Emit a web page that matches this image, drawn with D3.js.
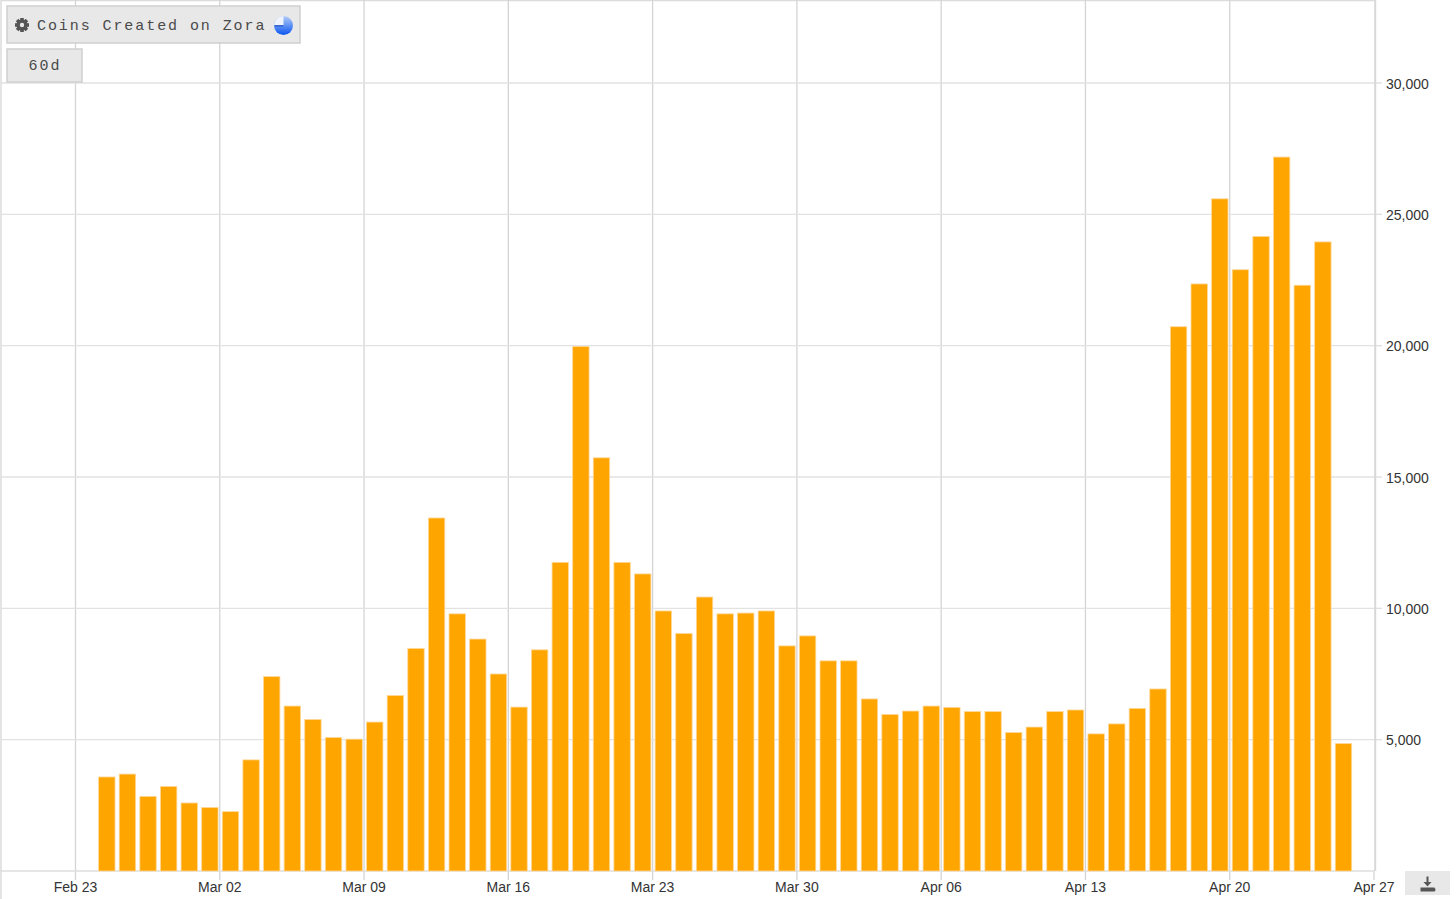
<!DOCTYPE html>
<html>
<head>
<meta charset="utf-8">
<title>Coins Created on Zora</title>
<script src="https://cdn.jsdelivr.net/npm/d3@7"></script>
<style>
  html, body { margin: 0; padding: 0; background: #fff; }
  svg { display: block; }
  text { font-family: "Liberation Sans", sans-serif; font-size: 14px; fill: #333; }
  .btn-label { font-family: "Liberation Mono", monospace; font-size: 15px; letter-spacing: 1.92px; fill: #4a4a4a; }
</style>
</head>
<body>
<div id="chart"></div>
<script>
(function() {
    'use strict';

    var title = 'Coins Created on Zora';
    var rangeLabel = '60d';
    var firstDay = '2025-02-24';
    var dayValues = [
        3580, 3690, 2840, 3220, 2590, 2420, 2260, 4230, 7400, 6280,
        5770, 5080, 5020, 5670, 6680, 8470, 13440, 9790, 8830, 7500,
        6240, 8420, 11750, 19970, 15730, 11750, 11310, 9900, 9040, 10430,
        9790, 9820, 9900, 8570, 8950, 8000, 8000, 6550, 5960, 6090,
        6280, 6230, 6070, 6070, 5270, 5480, 6070, 6130, 5220, 5600,
        6190, 6930, 20720, 22350, 25590, 22890, 24160, 27180, 22300, 23950,
        4850
    ];
    var xTickDays = ['2025-02-23', '2025-03-02', '2025-03-09', '2025-03-16', '2025-03-23',
        '2025-03-30', '2025-04-06', '2025-04-13', '2025-04-20', '2025-04-27'];
    var yTicks = [5000, 10000, 15000, 20000, 25000, 30000];

    var width = 1456, height = 899;
    var axisX = 1374, baseY = 871;

    var parseDay = d3.utcParse('%Y-%m-%d');
    var start = parseDay(firstDay);
    var bars = dayValues.map(function(v, i) {
        return { day: d3.utcDay.offset(start, i), value: v };
    });

    var x = d3.scaleUtc()
        .domain([parseDay(xTickDays[0]), parseDay(xTickDays[xTickDays.length - 1])])
        .range([75.5, axisX]);
    var y = d3.scaleLinear().domain([0, 30000]).range([baseY, 83]);

    var svg = d3.select('#chart').append('svg')
        .attr('width', width)
        .attr('height', height);

    // frame on the top and left
    svg.append('path')
        .attr('d', 'M1,' + (baseY + 28) + 'V0.5H' + axisX)
        .attr('fill', 'none')
        .attr('stroke', '#dcdcdc')
        .attr('stroke-width', 1.5);

    var gx = svg.append('g')
        .attr('transform', 'translate(0,' + baseY + ')')
        .call(d3.axisBottom(x)
            .offset(0)
            .tickValues(xTickDays.map(parseDay))
            .tickSize(9)
            .tickPadding(2)
            .tickFormat(d3.utcFormat('%b %d')));
    gx.select('.domain').remove();
    gx.selectAll('.tick line').attr('stroke', '#d4d4d4').attr('stroke-width', 1.3);
    gx.selectAll('.tick text').attr('fill', '#333');
    // vertical grid
    gx.selectAll('.tick').filter(function(d, i) { return i < xTickDays.length - 1; })
        .append('line')
        .attr('y1', 0)
        .attr('y2', -baseY)
        .attr('stroke', '#d4d4d4')
        .attr('stroke-width', 1.3);

    var gy = svg.append('g')
        .attr('transform', 'translate(' + axisX + ',0)')
        .call(d3.axisRight(y)
            .offset(0)
            .tickValues(yTicks)
            .tickSize(8)
            .tickPadding(4)
            .tickFormat(d3.format(',')));
    gy.select('.domain').remove();
    gy.selectAll('.tick line').attr('stroke', '#dedede').attr('stroke-width', 1.3);
    gy.selectAll('.tick text').attr('fill', '#333').attr('dy', '0.4em');
    // horizontal grid
    gy.selectAll('.tick').append('line')
        .attr('x1', 0)
        .attr('x2', -axisX)
        .attr('stroke', '#e2e2e2')
        .attr('stroke-width', 1.3);

    // baseline and right axis
    svg.append('line')
        .attr('x1', 0).attr('x2', axisX)
        .attr('y1', baseY).attr('y2', baseY)
        .attr('stroke', '#dedede').attr('stroke-width', 1.5);
    svg.append('line')
        .attr('x1', axisX + 1.2).attr('x2', axisX + 1.2)
        .attr('y1', 0).attr('y2', baseY)
        .attr('stroke', '#d8d8d8').attr('stroke-width', 2);

    var barWidth = 16.4;
    svg.append('g').selectAll('rect')
        .data(bars)
        .join('rect')
        .attr('x', function(d) { return x(d3.utcHour.offset(d.day, 12)) - barWidth / 2 + 0.4; })
        .attr('y', function(d) { return y(d.value); })
        .attr('width', barWidth)
        .attr('height', function(d) { return baseY - y(d.value); })
        .attr('fill', '#ffa500')
        .attr('stroke', '#ffd898')
        .attr('stroke-width', 0.8);

    // title button
    var defs = svg.append('defs');
    var grad = defs.append('linearGradient')
        .attr('id', 'pie-grad')
        .attr('x1', 0).attr('y1', 0).attr('x2', 0).attr('y2', 1);
    grad.append('stop').attr('offset', '0%').attr('stop-color', '#b4cdf8');
    grad.append('stop').attr('offset', '100%').attr('stop-color', '#0b55f0');

    var head = svg.append('g');
    head.append('rect')
        .attr('x', 7).attr('y', 6).attr('width', 293).attr('height', 37)
        .attr('fill', '#e8e8e8').attr('stroke', '#cfcfcf').attr('stroke-width', 1.5);
    head.append('text')
        .attr('class', 'btn-label')
        .attr('x', 37).attr('y', 30)
        .text(title);

    // gear
    var gear = head.append('g').attr('transform', 'translate(22,25)');
    gear.selectAll('rect')
        .data(d3.range(8))
        .join('rect')
        .attr('x', -1.8).attr('y', -7).attr('width', 3.6).attr('height', 3.6)
        .attr('fill', '#555')
        .attr('transform', function(d) { return 'rotate(' + d * 45 + ')'; });
    gear.append('circle')
        .attr('r', 3.9)
        .attr('fill', 'none')
        .attr('stroke', '#555')
        .attr('stroke-width', 3.4);

    // little loading pie
    var pie = head.append('g').attr('transform', 'translate(283.5,25.5)');
    pie.append('circle').attr('r', 9.5).attr('fill', 'url(#pie-grad)');
    pie.append('path')
        .attr('d', d3.arc()({ innerRadius: 0, outerRadius: 9.5, startAngle: -Math.PI / 2, endAngle: 0 }))
        .attr('fill', '#eef3fc');
    pie.append('line')
        .attr('x1', -9).attr('x2', 0).attr('y1', 0.3).attr('y2', 0.3)
        .attr('stroke', '#0a3fb8').attr('stroke-width', 1);

    // range button
    head.append('rect')
        .attr('x', 7).attr('y', 49).attr('width', 75).attr('height', 33)
        .attr('fill', '#e8e8e8').attr('stroke', '#cfcfcf').attr('stroke-width', 1.5);
    head.append('text')
        .attr('class', 'btn-label')
        .attr('x', 45).attr('y', 70)
        .attr('text-anchor', 'middle')
        .text(rangeLabel);

    // download button
    var dl = svg.append('g');
    dl.append('rect')
        .attr('x', 1405).attr('y', 871).attr('width', 45).attr('height', 24)
        .attr('fill', '#e8e8e8');
    dl.append('path')
        .attr('d', 'M1426.5,876.5h2v5.5h3l-4,4.5l-4,-4.5h3zM1420.5,887.5h14v0.5a2,2 0 0 1 0,3.5h-14z')
        .attr('fill', '#555');
})();
</script>
</body>
</html>
